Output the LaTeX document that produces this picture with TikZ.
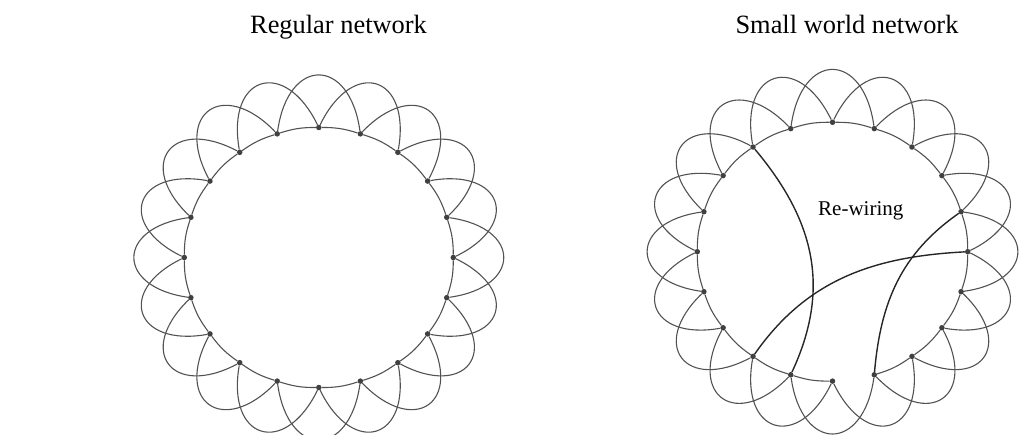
\documentclass[tikz,border=0pt]{standalone}
\usepackage{fontspec}
\setmainfont{Liberation Serif}
\usepackage{tikz}

\begin{document}
\begin{tikzpicture}[x=1pt, y=1pt,
    dot/.style={circle, fill=black!75, inner sep=0pt, minimum size=5.5pt},
    link/.style={black!68, line width=1.1pt},
    rewire/.style={black!85, line width=1.4pt}]

\useasboundingbox (0,0) rectangle (1030,434);
\clip (0,0) rectangle (1030,434);

% ── Titles ───────────────────────────────────────────────────────
\node[font=\fontsize{26.4}{30}\selectfont, anchor=base] (tleft) at (338.5,400.7) {Regular network};
\node[font=\fontsize{26.4}{30}\selectfont, anchor=base] (tright) at (847,400.7) {Small world network};

% ── Regular network ──────────────────────────────────────────────
\begin{scope}[shift={(318.8,176.5)}]
    \foreach \k in {0,...,19}
        \node[dot] (l\k) at ({134.5*cos(90-18*\k)}, {130*sin(90-18*\k)}) {};

    \foreach \k in {0,...,19} {
        \pgfmathtruncatemacro{\nxt}{mod(\k+1,20)}
        \pgfmathtruncatemacro{\far}{mod(\k+2,20)}
        \pgfmathsetmacro{\aout}{90-18*\k-26}
        \pgfmathsetmacro{\ain}{90-18*\k-10}
        \draw[link] (l\k) to[bend left=9] (l\nxt);
        \draw[link] (l\k) to[out=\aout, in=\ain, looseness=2.35] (l\far);
    }
\end{scope}

% ── Small world network ──────────────────────────────────────────
\begin{scope}[shift={(832.5,182.3)}]
    \foreach \k in {0,...,19}
        \node[dot] (r\k) at ({135.2*cos(90-18*\k)}, {129.4*sin(90-18*\k)}) {};

    \foreach \k in {0,...,19} {
        \pgfmathtruncatemacro{\nxt}{mod(\k+1,20)}
        \pgfmathtruncatemacro{\far}{mod(\k+2,20)}
        \pgfmathsetmacro{\aout}{90-18*\k-26}
        \pgfmathsetmacro{\ain}{90-18*\k-10}
        \ifnum\k=9 \else
            \draw[link] (r\k) to[bend left=9] (r\nxt);
        \fi
        \draw[link] (r\k) to[out=\aout, in=\ain, looseness=2.35] (r\far);
    }

    % rewired links
    \draw[rewire] (r18) to[out=-50, in=65, looseness=1.05] (r11);
    \draw[rewire] (r4) to[out=215, in=85] (r9);
    \draw[rewire] (r5) to[out=183, in=55] (r12);
\end{scope}

\node[font=\fontsize{21}{24}\selectfont, anchor=base] (rwire) at (860.8,218) {Re-wiring};

\end{tikzpicture}
\end{document}
